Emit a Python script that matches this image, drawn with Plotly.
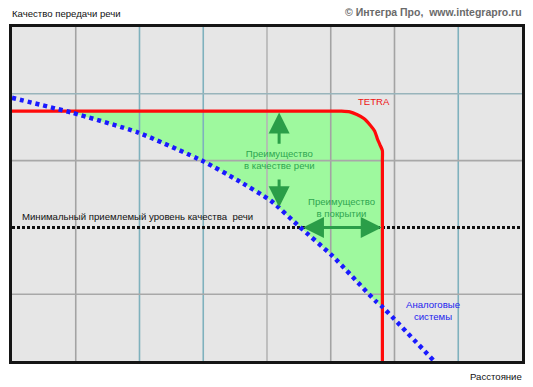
import plotly.graph_objects as go

# ---- data (x: distance 0..8, y: quality 0..5)
tetra_x = [0.0, 5.05, 5.17, 5.30, 5.41, 5.52, 5.62, 5.69, 5.73, 5.77, 5.81, 5.81, 5.81]
tetra_y = [3.74, 3.74, 3.74, 3.73, 3.69, 3.63, 3.53, 3.44, 3.33, 3.24, 3.15, 3.0, 0.0]

analog_x = [0.0, 0.93, 1.98, 3.0, 3.53, 4.06, 4.51, 5.03, 5.70, 5.81, 6.62]
analog_y = [3.94, 3.72, 3.42, 2.99, 2.71, 2.40, 2.01, 1.57, 0.90, 0.81, 0.0]

# advantage area: TETRA curve from the left crossing to the right crossing, back along analog
area_x = [0.93, 5.17, 5.30, 5.41, 5.52, 5.62, 5.69, 5.73, 5.77, 5.81, 5.81,
          5.70, 5.03, 4.51, 4.06, 3.53, 3.0, 1.98, 0.93]
area_y = [3.74, 3.74, 3.73, 3.69, 3.63, 3.53, 3.44, 3.33, 3.24, 3.15, 0.81,
          0.90, 1.57, 2.01, 2.40, 2.71, 2.99, 3.42, 3.72]

min_level = 2.0

grid_x = [1, 2, 3, 4, 5, 6, 7]
grid_x_colors = ["#a3a3a3", "#7fb1bd", "#7fb1bd", "#b5b5b5", "#a3a3a3", "#a3a3a3", "#7fb1bd"]
grid_y = [1, 3, 4]
grid_y_colors = ["#a8a8a8", "#a8a8a8", "#98b4bb"]

GREEN_TXT = "#2fa650"
GREEN_ARW = "#2a9e48"
FONT = "Liberation Sans Narrow, Arial Narrow, Liberation Sans, Arial"
FS = 9.6

fig = go.Figure()

fig.add_trace(go.Scatter(x=area_x, y=area_y, mode="lines", fill="toself",
                         fillcolor="#9ef99e", line=dict(width=0, color="#9ef99e"),
                         hoverinfo="skip", showlegend=False))

for gx, c in zip(grid_x, grid_x_colors):
    fig.add_trace(go.Scatter(x=[gx, gx], y=[0, 5], mode="lines",
                             line=dict(color=c, width=1.6), hoverinfo="skip", showlegend=False))
for gy, c in zip(grid_y, grid_y_colors):
    fig.add_trace(go.Scatter(x=[0, 8], y=[gy, gy], mode="lines",
                             line=dict(color=c, width=1.6), hoverinfo="skip", showlegend=False))

fig.add_trace(go.Scatter(x=[0, 8], y=[min_level, min_level], mode="lines",
                         line=dict(color="#111111", width=3, dash="3px,2px"),
                         hoverinfo="skip", showlegend=False))

fig.add_trace(go.Scatter(x=tetra_x, y=tetra_y, mode="lines",
                         line=dict(color="#ff0a0a", width=3.2, shape="spline", smoothing=0.5),
                         hoverinfo="skip", showlegend=False))

fig.add_trace(go.Scatter(x=analog_x, y=analog_y, mode="lines",
                         line=dict(color="#1a1aff", width=4.5, dash="4px,4px", shape="spline", smoothing=0.5),
                         hoverinfo="skip", showlegend=False))

# arrows
arrow_common = dict(xref="x", yref="y", axref="x", ayref="y", text="", showarrow=True,
                    arrowcolor=GREEN_ARW, arrowwidth=3, arrowhead=2, arrowsize=1.4, standoff=0, startstandoff=0)
fig.add_annotation(x=4.19, y=3.72, ax=4.19, ay=3.23, **arrow_common)
fig.add_annotation(x=4.19, y=2.30, ax=4.19, ay=2.74, **arrow_common)
fig.add_annotation(x=5.80, y=2.0, ax=4.54, ay=2.0, arrowside="end+start",
                   startarrowhead=2, startarrowsize=1.4, **arrow_common)

def txt(x, y, s, color, size=FS, xanchor="center", weight=None):
    fig.add_annotation(x=x, y=y, xref="x", yref="y", text=s, showarrow=False,
                       xanchor=xanchor, yanchor="middle",
                       font=dict(family=FONT, size=size, color=color, weight=weight))

txt(0.125, 2.17, "Минимальный приемлемый уровень качества  речи", "#111111", xanchor="left")
txt(4.2, 3.01, "Преимущество<br>в качестве речи", GREEN_TXT)
txt(5.17, 2.30, "Преимущество<br>в покрытии", GREEN_TXT)
txt(5.68, 3.88, "TETRA", "#ee1111")
txt(6.15, 0.76, "Аналоговые<br>системы", "#2222ee", xanchor="left")

# outside texts (paper coords)
fig.add_annotation(x=-0.004, y=1.0 + 13 / 334, xref="paper", yref="paper", text="Качество передачи речи",
                   showarrow=False, xanchor="left", yanchor="middle",
                   font=dict(family=FONT, size=FS, color="#111111"))
fig.add_annotation(x=1.003, y=1.0 + 15 / 334, xref="paper", yref="paper", text="© Интегра Про,  www.integrapro.ru",
                   showarrow=False, xanchor="right", yanchor="middle",
                   font=dict(family=FONT, size=10.5, color="#6a6a6a", weight="bold"))
fig.add_annotation(x=1.003, y=-15 / 334, xref="paper", yref="paper", text="Расстояние",
                   showarrow=False, xanchor="right", yanchor="middle",
                   font=dict(family=FONT, size=FS, color="#111111"))

# frame
fig.add_shape(type="rect", xref="paper", yref="paper",
              x0=-1.5 / 510, x1=1 + 1.5 / 510, y0=-1.5 / 334, y1=1 + 1.5 / 334,
              line=dict(color="#151515", width=3), layer="above")

fig.update_layout(
    width=533, height=387,
    margin=dict(l=12, r=11, t=27, b=26),
    paper_bgcolor="#ffffff", plot_bgcolor="#e6e6e6",
    xaxis=dict(range=[0, 8], showgrid=False, zeroline=False, showticklabels=False, ticks="", fixedrange=True),
    yaxis=dict(range=[0, 5], showgrid=False, zeroline=False, showticklabels=False, ticks="", fixedrange=True),
    showlegend=False,
)

fig.write_html("out.html", config={"displayModeBar": False},
               post_script="document.body.style.margin='0';document.body.style.overflow='hidden';")
